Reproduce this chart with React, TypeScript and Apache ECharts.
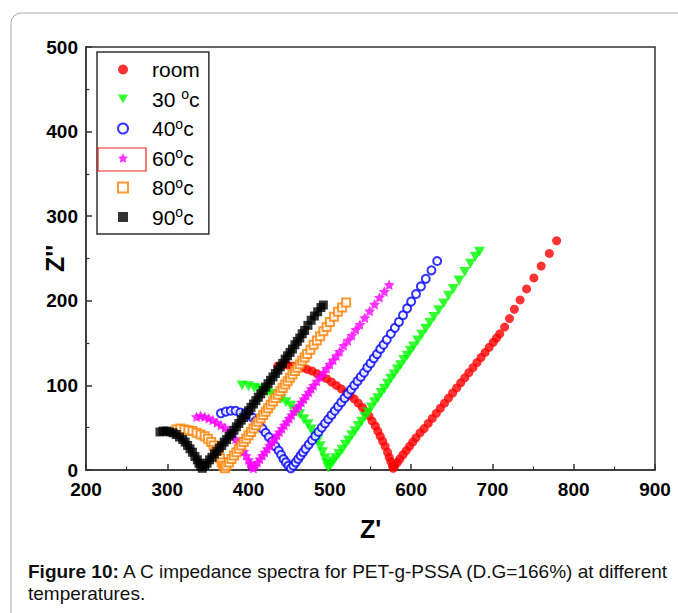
import React, { useEffect, useRef } from "react";
import * as echarts from "echarts";

// Axis ranges [min, max, interval]
const xAxisRange = [200, 900, 100];
const yAxisRange = [0, 500, 100];

const seriesNames = ["room", "30 °c", "40°c", "60°c", "80°c", "90°c"];
const seriesColors = ["#ff0000", "#00ff00", "#0000ff", "#ff00ff", "#ff8000", "#000000"];

const room: number[][] = [
  [436, 123], [442, 124], [448, 124], [454, 123], [460, 122], [466, 121], [472, 119], [478, 117],
  [484, 114], [490, 111], [496, 108], [502, 104], [508, 100], [514, 96], [520, 92], [525, 88],
  [530, 84], [535, 79], [540, 74], [544, 69], [548, 64], [552, 58], [556, 52], [559, 46],
  [562, 40], [565, 34], [568, 28], [571, 21], [573, 15], [575, 10], [577, 5], [578, 2],
  [580, 5], [583, 9], [586, 13], [590, 18], [594, 23], [598, 28], [602, 33], [606, 38],
  [611, 44], [616, 49], [621, 55], [626, 61], [631, 67], [636, 73], [641, 79], [646, 85],
  [651, 91], [656, 97], [661, 103], [666, 109], [671, 115], [676, 121], [681, 127], [686, 133],
  [691, 139], [696, 145], [701, 151], [705, 156], [709, 161], [715, 169], [721, 179], [727, 190],
  [734, 201], [742, 214], [751, 227], [760, 241], [770, 256], [779, 271],
];

const t30: number[][] = [
  [392, 100], [400, 99], [407, 97], [413, 96], [418, 94], [423, 92], [428, 90], [434, 87],
  [440, 84], [446, 80], [452, 76], [458, 71], [463, 66], [468, 60], [473, 54], [477, 48],
  [481, 42], [485, 35], [488, 28], [491, 21], [494, 14], [496, 8], [498, 3],
  [501, 6], [504, 10], [507, 14], [511, 19], [515, 24], [519, 30], [523, 35], [527, 41],
  [531, 46], [535, 52], [539, 57], [543, 63], [547, 68], [551, 74], [555, 80], [559, 85],
  [563, 91], [567, 96], [571, 102], [575, 108], [579, 113], [583, 119], [587, 124], [591, 130],
  [595, 135], [599, 141], [603, 146], [608, 153], [613, 160], [618, 167], [623, 174], [628, 181],
  [634, 189], [640, 197], [646, 206], [652, 214], [659, 224], [666, 234], [673, 244], [679, 252],
  [684, 258],
];

const t40: number[][] = [
  [366, 67], [372, 69], [378, 70], [384, 70], [390, 68], [396, 67], [401, 65], [405, 62],
  [409, 58], [413, 54], [417, 49], [421, 44], [425, 39], [429, 34], [433, 28], [437, 23],
  [440, 18], [443, 13], [446, 9], [449, 5], [452, 2],
  [455, 5], [458, 9], [461, 13], [464, 17], [467, 21], [470, 25], [474, 30], [478, 35],
  [482, 40], [486, 45], [490, 50], [494, 55], [498, 60], [502, 65], [506, 70], [510, 75],
  [514, 80], [518, 85], [522, 90], [526, 95], [530, 100], [534, 105], [538, 110], [542, 115],
  [546, 121], [550, 126], [554, 132], [558, 137], [562, 143], [566, 148], [570, 154], [575, 161],
  [580, 168], [585, 175], [590, 183], [595, 191], [600, 199], [606, 208], [612, 217], [618, 226],
  [625, 236], [632, 247],
];

const t60: number[][] = [
  [336, 63], [341, 64], [346, 63], [351, 61], [356, 59], [361, 56], [366, 53], [371, 50],
  [376, 46], [380, 42], [384, 37], [388, 32], [391, 27], [394, 22], [397, 17], [400, 12],
  [402, 8], [404, 4], [406, 2],
  [408, 5], [411, 9], [414, 13], [417, 17], [420, 21], [423, 25], [426, 29], [429, 33],
  [432, 37], [435, 41], [438, 45], [441, 49], [444, 53], [447, 57], [450, 61], [453, 65],
  [456, 69], [459, 73], [462, 76], [465, 80], [468, 84], [471, 88], [474, 92], [477, 96],
  [480, 100], [484, 105], [488, 110], [492, 115], [496, 120], [500, 125], [504, 130], [508, 135],
  [512, 140], [517, 147], [522, 153], [527, 159], [532, 166], [537, 172], [543, 180], [549, 188],
  [555, 196], [561, 204], [567, 211], [573, 219],
];

const t80: number[][] = [
  [311, 48], [316, 49], [321, 48], [326, 47], [331, 46], [336, 44], [341, 42], [346, 40],
  [350, 37], [354, 33], [357, 29], [360, 24], [363, 19], [365, 14], [367, 9], [369, 5],
  [371, 2],
  [373, 5], [376, 9], [379, 13], [382, 17], [385, 21], [388, 25], [391, 29], [394, 33],
  [397, 37], [400, 41], [403, 45], [406, 49], [409, 53], [412, 57], [415, 61], [418, 65],
  [421, 69], [424, 73], [427, 77], [430, 81], [433, 85], [436, 89], [439, 93], [442, 97],
  [445, 101], [448, 105], [451, 109], [454, 113], [457, 117], [460, 121], [463, 125], [466, 129],
  [469, 133], [472, 137], [476, 142], [480, 148], [484, 153], [488, 158], [492, 164], [496, 169],
  [500, 175], [505, 181], [510, 187], [515, 192], [520, 198],
];

const t90: number[][] = [
  [291, 45], [295, 46], [299, 46], [303, 45], [307, 44], [311, 42], [315, 39], [319, 36],
  [322, 33], [325, 29], [328, 25], [331, 21], [334, 16], [337, 12], [339, 8], [341, 5],
  [343, 2],
  [346, 5], [349, 8], [352, 12], [355, 15], [358, 19], [361, 22], [364, 26], [367, 29],
  [370, 33], [373, 36], [376, 40], [379, 43], [382, 47], [385, 51], [388, 55], [391, 59],
  [394, 62], [397, 66], [400, 70], [403, 74], [406, 78], [409, 82], [412, 86], [415, 90],
  [418, 94], [421, 98], [424, 102], [427, 106], [430, 110], [433, 114], [436, 118], [439, 122],
  [442, 126], [445, 131], [448, 135], [451, 139], [454, 143], [457, 148], [460, 152], [463, 156],
  [466, 161], [469, 165], [473, 171], [477, 177], [481, 182], [485, 187], [489, 192], [492, 195],
];

const seriesData = [room, t30, t40, t60, t80, t90];

const starPath =
  "path://M0,-10L2.94,-4.05L9.51,-3.09L4.76,1.55L5.88,8.09L0,5L-5.88,8.09L-4.76,1.55L-9.51,-3.09L-2.94,-4.05Z";
const downTrianglePath = "path://M-10,-9L10,-9L0,9Z";

const symbols = ["circle", downTrianglePath, "emptyCircle", starPath, "emptyRect", "rect"];
const symbolSizes = [9, 11, 8, 11, 8, 9];

const FONT = "'Liberation Sans', Arial, sans-serif";

export default function App() {
  const ref = useRef<HTMLDivElement>(null);

  useEffect(() => {
    if (!ref.current) return;
    const chart = echarts.init(ref.current, undefined, { renderer: "svg" });

    const series = seriesNames.map((name, i) => ({
      name,
      type: "scatter",
      data: seriesData[i],
      symbol: symbols[i],
      symbolSize: symbolSizes[i],
      symbolKeepAspect: true,
      itemStyle: { color: seriesColors[i], borderWidth: i === 2 || i === 4 ? 1 : 0 },
      emphasis: { disabled: true },
    }));

    const axisLineStyle = { color: "#333", width: 1.5 };

    chart.setOption({
      animation: false,
      backgroundColor: "#ffffff",
      textStyle: { fontFamily: FONT },
      grid: {
        left: 86,
        right: 23,
        top: 47,
        bottom: 143,
        show: true,
        borderColor: "#333",
        borderWidth: 1.5,
        containLabel: false,
      },
      xAxis: {
        type: "value",
        min: xAxisRange[0],
        max: xAxisRange[1],
        interval: xAxisRange[2],
        name: "Z'",
        nameLocation: "middle",
        nameGap: 46,
        nameMoveOverlap: false,
        nameTextStyle: { fontSize: 25, fontWeight: "bold", color: "#000", fontFamily: FONT },
        axisLine: { show: true, lineStyle: axisLineStyle },
        axisTick: { show: true, inside: true, length: 6, lineStyle: axisLineStyle },
        minorTick: { show: true, splitNumber: 2, length: 3.5, lineStyle: { color: "#333", width: 1.2 } },
        splitLine: { show: false },
        axisLabel: { fontSize: 19, fontWeight: "bold", color: "#000", margin: 10, fontFamily: FONT },
      },
      yAxis: {
        type: "value",
        min: yAxisRange[0],
        max: yAxisRange[1],
        interval: yAxisRange[2],
        name: "Z''",
        nameLocation: "middle",
        nameGap: 19,
        nameMoveOverlap: false,
        nameTextStyle: { fontSize: 25, fontWeight: "bold", color: "#000", fontFamily: FONT },
        axisLine: { show: true, lineStyle: axisLineStyle },
        axisTick: { show: true, inside: true, length: 6, lineStyle: axisLineStyle },
        minorTick: { show: true, splitNumber: 2, length: 3.5, lineStyle: { color: "#333", width: 1.2 } },
        splitLine: { show: false },
        axisLabel: { fontSize: 19, fontWeight: "bold", color: "#000", margin: 8, fontFamily: FONT },
      },
      legend: {
        show: true,
        orient: "vertical",
        left: 97,
        top: 52,
        padding: [5.5, 9, 5, 20],
        itemWidth: 10,
        itemHeight: 10,
        itemGap: 5.5,
        symbolKeepAspect: true,
        borderColor: "#333",
        borderWidth: 1.5,
        backgroundColor: "#fff",
        selectedMode: false,
        data: seriesNames,
        formatter: (name: string) => "{sp|}" + name.replace("°", "{s|o}"),
        textStyle: {
          fontSize: 21,
          lineHeight: 24,
          color: "#000",
          fontFamily: FONT,
          rich: {
            sp: { width: 19, lineHeight: 24 },
            s: { fontSize: 14, lineHeight: 12, verticalAlign: "top", color: "#000", fontFamily: FONT },
          },
        },
      },
      graphic: [
        {
          type: "rect",
          silent: true,
          z: -10,
          shape: { x: 11, y: 13, width: 720, height: 700, r: 10 },
          style: { fill: "none", stroke: "#a8a8a8", lineWidth: 1 },
        },
        {
          type: "rect",
          silent: true,
          z: 100,
          shape: { x: 98, y: 148, width: 48, height: 23 },
          style: { fill: "none", stroke: "#ee2222", lineWidth: 1.2 },
        },
        {
          type: "text",
          left: 28,
          top: 560,
          silent: true,
          style: {
            text:
              "{b|Figure 10:} A C impedance spectra for PET-g-PSSA (D.G=166%) at different\ntemperatures.",
            fontSize: 19,
            lineHeight: 22,
            fontFamily: FONT,
            fill: "#111",
            rich: {
              b: { fontWeight: "bold", fontSize: 19, lineHeight: 22, fontFamily: FONT, fill: "#111" },
            },
          },
        },
      ],
      series,
    });

    return () => {
      chart.dispose();
    };
  }, []);

  return (
    <div
      ref={ref}
      style={{ position: "absolute", left: 0, top: 0, width: 678, height: 613, background: "#fff" }}
    />
  );
}
